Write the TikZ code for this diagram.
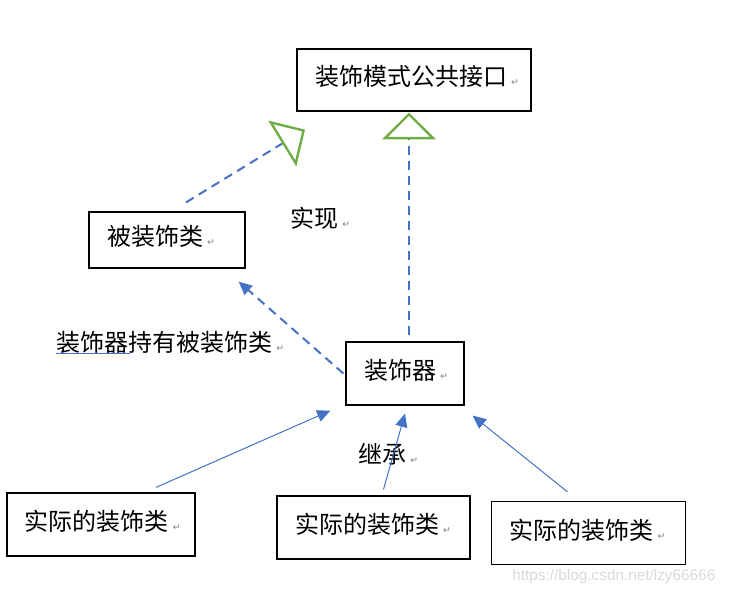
\documentclass[tikz,border=0pt]{standalone}
\usepackage{fontspec}
\setmainfont{Noto Sans CJK SC}
\newfontfamily\symfont{DejaVu Sans}
\newfontfamily\urlfont{Liberation Sans}
\usetikzlibrary{arrows.meta}
\definecolor{wordblue}{HTML}{4472C4}
\definecolor{wordgreen}{HTML}{70AD47}
\newcommand{\pmark}{\nobreak\hspace{3pt}{\symfont\fontsize{7}{7}\selectfont\textcolor{gray}{↵}}}

\begin{document}
\begin{tikzpicture}[x=0.75pt, y=-0.75pt, every node/.style={font=\fontsize{18}{20}\selectfont},
    box/.style n args={3}{draw, line width=0.9pt, minimum width=#1, minimum height=#2, text width=#3, text height=15pt, text depth=6pt, inner xsep=13.5pt, inner ysep=0pt, align=left},
    lbl/.style={anchor=west, inner sep=0pt},
    realize/.style={wordblue, line width=1.5pt, dash pattern=on 6.75pt off 4.5pt, -{Triangle[open, color=wordgreen, length=20pt, width=40pt, line width=1.8pt]}},
    hold/.style={wordblue, line width=1.5pt, dash pattern=on 6.75pt off 4.5pt, -{Triangle[length=10pt, width=9pt]}},
    inherit/.style={wordblue, line width=0.75pt, -{Triangle[length=10pt, width=9pt]}}]
        \useasboundingbox (0,0) rectangle (729,595);
        % Boxes
        \node[box={175.5pt}{46.5pt}{148.5pt}] (iface) at (414,80) {装饰模式公共接口\pmark};
        \node[box={117pt}{42pt}{90pt}] (target) at (167,240) {被装饰类\pmark};
        \node[box={88.5pt}{47.25pt}{61.5pt}] (deco) at (405,373.5) {装饰器\pmark};
        \foreach \n/\x/\y/\w/\tw in {conc1/101/524.5/141pt/114pt, conc2/373.5/527.5/144.75pt/117.75pt, conc3/588.5/533/145.5pt/118.5pt}
            \node[box={\w}{47.25pt}{\tw}] (\n) at (\x,\y) {实际的装饰类\pmark};
        % Labels
        \node[lbl] (implLbl) at (290,218) {实现\pmark};
        \node[lbl] (holdLbl) at (56,342) {装饰器持有被装饰类\pmark};
        \node[lbl] (inhLbl) at (358,454) {继承\pmark};
        \draw[wordblue, line width=0.75pt] ([yshift=-0.3pt]holdLbl.south west) -- ++(74,0);
        % 实现: dashed lines, open triangles
        \draw[realize] ([shift={(19,-9)}]target.north) -- ([shift={(-109,18)}]iface.south);
        \draw[realize] ([shift={(4,-6)}]deco.north) -- ([shift={(-5,1)}]iface.south);
        % 装饰器持有被装饰类
        \draw[hold] ([shift={(-2,0)}]deco.west) -- ([shift={(-7,13)}]target.south east);
        % 继承
        \draw[inherit] ([shift={(55,-5)}]conc1.north) -- ([shift={(-15,5)}]deco.south west);
        \draw[inherit] ([shift={(10,-6)}]conc2.north) -- ([shift={(0,8)}]deco.south);
        \draw[inherit] ([shift={(-21,-9)}]conc3.north) -- ([shift={(8,10)}]deco.south east);
        % Watermark
        \node[anchor=east, font=\urlfont\fontsize{11.5}{12}\selectfont, text=black!15] (wm) at (720,577) {https://blog.csdn.net/lzy66666};
\end{tikzpicture}
\end{document}
